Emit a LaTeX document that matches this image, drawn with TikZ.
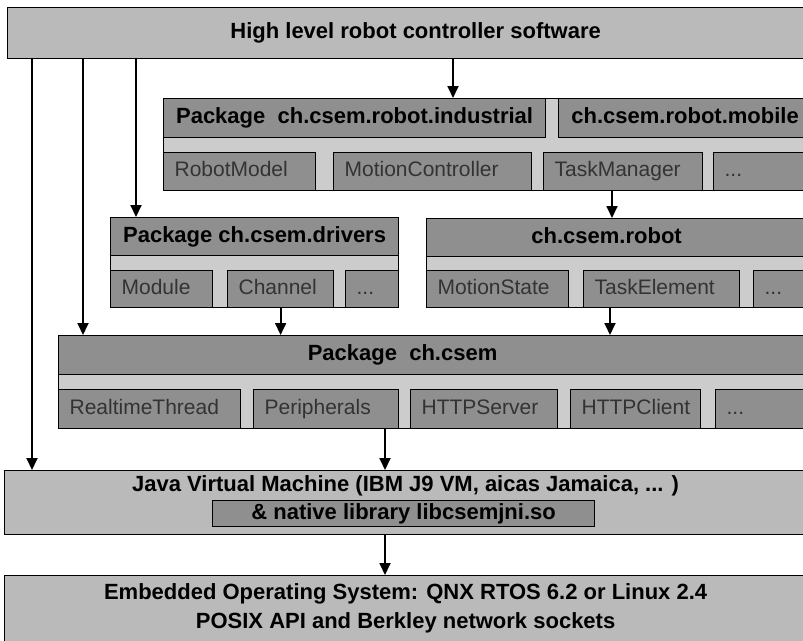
\documentclass[tikz,border=0pt]{standalone}
\usepackage{fontspec}
\setmainfont{Liberation Sans}
\usetikzlibrary{arrows.meta}
\definecolor{layergray}{gray}{0.73}
\definecolor{stripgray}{gray}{0.80}
\definecolor{pkggray}{gray}{0.56}
\tikzset{
    sz/.style 2 args = {minimum width=#1pt, minimum height=#2pt},
    layerbox/.style = {rectangle, draw=black, line width=1.2pt, fill=layergray, anchor=north west, inner sep=0pt, align=center, font=\fontsize{22}{29}\selectfont\bfseries},
    pkgbg/.style = {rectangle, draw=black, line width=1.2pt, fill=stripgray, anchor=north west, inner sep=0pt},
    pkghead/.style = {rectangle, draw=black, line width=1.2pt, fill=pkggray, anchor=north west, inner sep=0pt, text height=16pt, text depth=5pt, font=\fontsize{22}{26}\selectfont\bfseries},
    headlabel/.style = {text height=16pt, text depth=5pt, font=\fontsize{22}{26}\selectfont\bfseries},
    clsbox/.style = {rectangle, draw=black, line width=1.2pt, fill=pkggray, anchor=north west, inner xsep=11pt, inner ysep=0pt, text width=#1pt, text height=15pt, text depth=5pt, align=left, text=black!80, font=\fontsize{21}{25}\selectfont},
    libbox/.style = {rectangle, draw=black, line width=1.2pt, fill=pkggray, anchor=north west, inner sep=0pt, font=\fontsize{22}{26}\selectfont\bfseries},
    arr/.style = {-{Triangle[length=12pt,width=11pt]}, line width=1.8pt}
}
\begin{document}
\begin{tikzpicture}[x=1pt,y=-1pt]
\useasboundingbox (0,0) rectangle (803,640);
\clip (0,0) rectangle (803,640);

% top layer
\node[layerbox, sz={816}{51}] at (7,7) (hlc) {High level robot controller software};

% robot industrial / mobile
\node[pkgbg, sz={667}{92}] at (163,98) (indpkg) {};
\node[pkghead, sz={382}{39}] at (163,98) (indhead) {Package\ \ ch.csem.robot.industrial};
\node[pkghead, sz={253}{39}] at (558,98) (mobhead) {ch.csem.robot.mobile};
\node[clsbox=130, minimum height=38pt] at (163,152) (robotmodel) {RobotModel};
\node[clsbox=176, minimum height=38pt] at (333,152) (motionctrl) {MotionController};
\node[clsbox=137, minimum height=38pt] at (543,152) (taskmgr) {TaskManager};
\node[clsbox=95, minimum height=38pt] at (713,152) (inddots) {...};

% drivers
\node[pkgbg, sz={288}{90}] at (110,217) (drvpkg) {};
\node[pkghead, sz={288}{38}] at (110,217) (drvhead) {Package ch.csem.drivers};
\node[clsbox=80, minimum height=37pt] at (110,270) (module) {Module};
\node[clsbox=84, minimum height=37pt] at (227,270) (channel) {Channel};
\node[clsbox=31, minimum height=37pt] at (345,270) (drvdots) {...};

% robot
\node[pkgbg, sz={404}{89}] at (426,218) (robpkg) {};
\node[pkghead, sz={404}{38}, label={[headlabel, xshift=-22pt]center:ch.csem.robot}] at (426,218) (robhead) {};
\node[clsbox=120, minimum height=37pt] at (426,270) (motionstate) {MotionState};
\node[clsbox=134, minimum height=37pt] at (583,270) (taskelem) {TaskElement};
\node[clsbox=55, minimum height=37pt] at (753,270) (robdots) {...};

% csem
\node[pkgbg, sz={772}{93}] at (58,335) (csempkg) {};
\node[pkghead, sz={772}{39}, label={[headlabel, xshift=-42pt]center:Package\ \ ch.csem}] at (58,335) (csemhead) {};
\node[clsbox=160, minimum height=39pt] at (58,389) (rtthread) {RealtimeThread};
\node[clsbox=123, minimum height=39pt] at (253,389) (periph) {Peripherals};
\node[clsbox=125, minimum height=39pt] at (410,389) (httpserver) {HTTPServer};
\node[clsbox=108, minimum height=39pt] at (570,389) (httpclient) {HTTPClient};
\node[clsbox=93, minimum height=39pt] at (715,389) (csemdots) {...};

% jvm and os
\node[layerbox, sz={802}{64}, inner ysep=5pt, text height=16pt, text depth=38pt] at (4,470) (jvm) {Java Virtual Machine (IBM J9 VM, aicas Jamaica, ... )};
\node[libbox, sz={382}{26}] at (212,500) (lib) {\& native library libcsemjni.so};
\node[layerbox, sz={802}{66}, inner ysep=8pt] at (4,575) (os) {Embedded Operating System: QNX RTOS 6.2 or Linux 2.4\\POSIX API and Berkley network sockets};

% arrows
\draw[arr] (hlc.south -| 32,0) -- (jvm.north -| 32,0);
\draw[arr] (hlc.south -| 83,0) -- (csemhead.north -| 83,0);
\draw[arr] (hlc.south -| 136,0) -- (drvhead.north -| 136,0);
\draw[arr] (hlc.south -| 453,0) -- (indhead.north -| 453,0);
\draw[arr] (taskmgr.south -| 612,0) -- (robhead.north -| 612,0);
\draw[arr] (channel.south) -- (csemhead.north -| channel.south);
\draw[arr] (taskelem.south -| 610,0) -- (csemhead.north -| 610,0);
\draw[arr] (periph.south -| 385,0) -- (jvm.north -| 385,0);
\draw[arr] (jvm.south -| 385,0) -- (os.north -| 385,0);

\end{tikzpicture}
\end{document}
